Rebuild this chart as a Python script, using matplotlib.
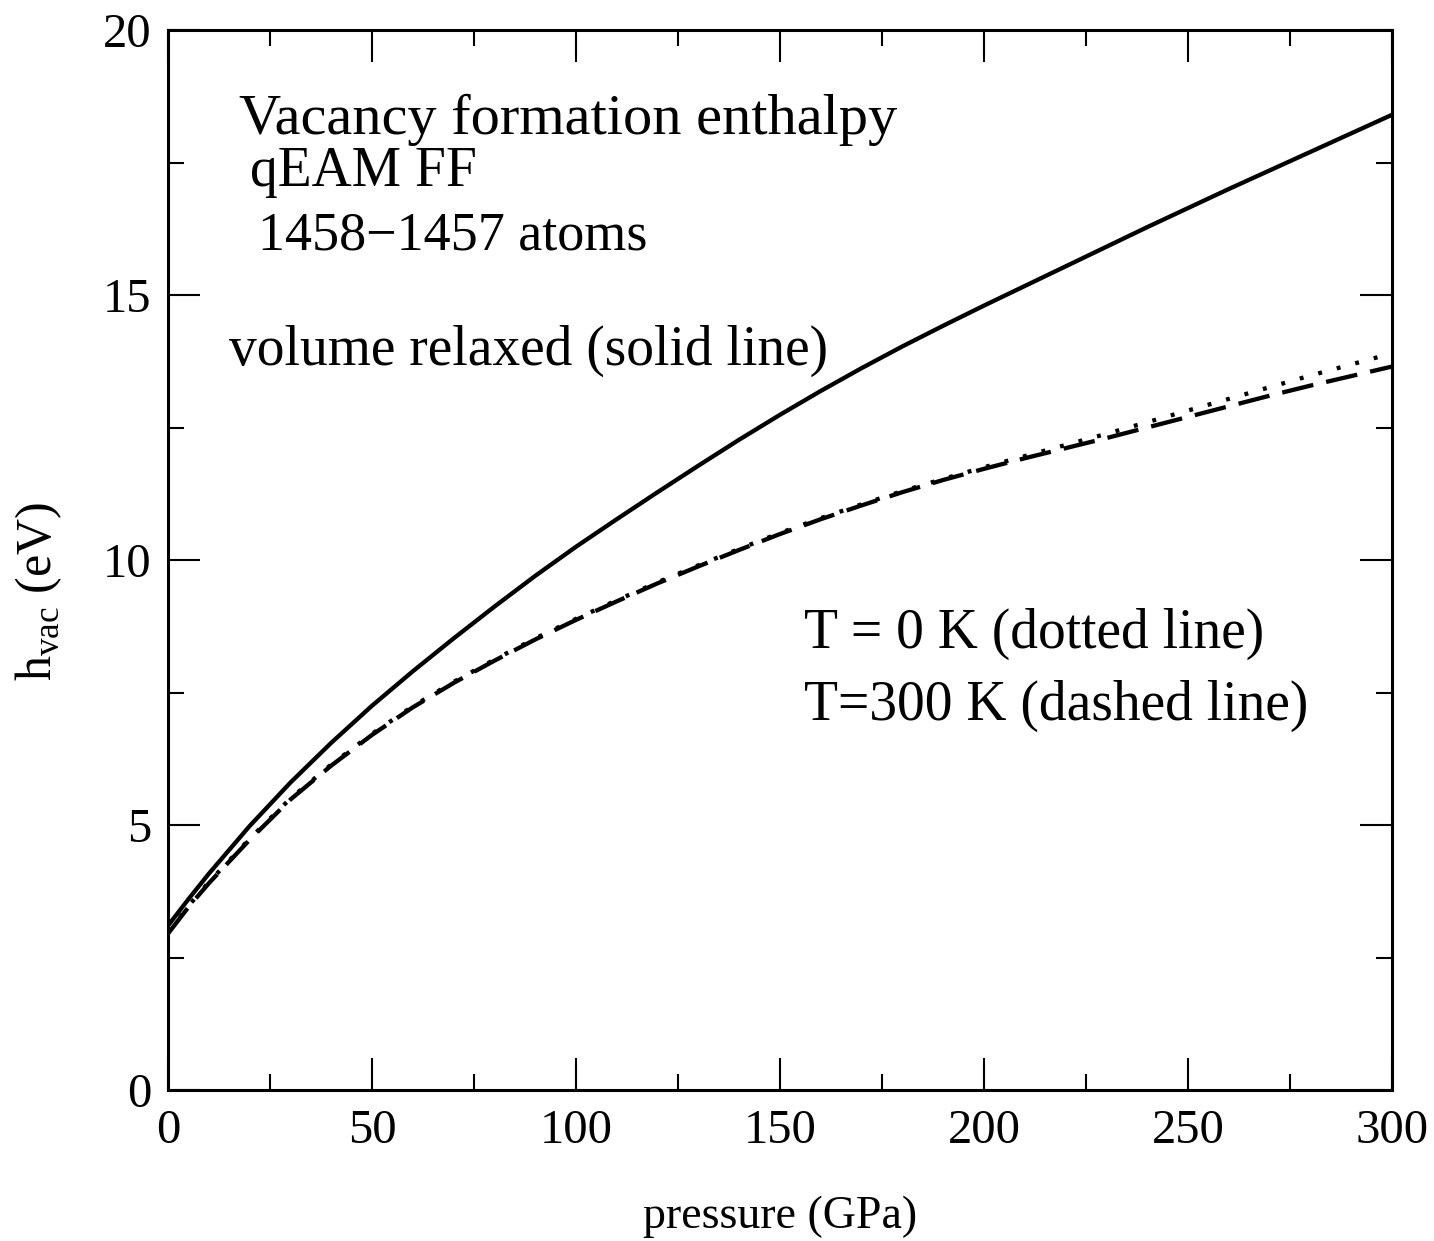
import numpy as np
import matplotlib
matplotlib.use("Agg")
import matplotlib.pyplot as plt
from matplotlib.ticker import MultipleLocator

plt.rcParams['font.family'] = ['Liberation Serif', 'DejaVu Serif']
plt.rcParams['mathtext.fontset'] = 'custom'
plt.rcParams['mathtext.rm'] = 'Liberation Serif'
plt.rcParams['lines.scale_dashes'] = False

# datos (presion en GPa, entalpia en eV)
pressure = [0, 5, 10, 20, 30, 40, 50, 60, 70, 80, 90, 100, 110, 120, 130, 140, 150,
            160, 170, 180, 190, 200, 210, 220, 230, 240, 250, 260, 270, 280, 290, 300]
h_relaxed = [3.1, 3.6, 4.08, 4.98, 5.8, 6.55, 7.25, 7.9, 8.52, 9.12, 9.7, 10.25, 10.77,
             11.28, 11.78, 12.27, 12.74, 13.19, 13.62, 14.03, 14.42, 14.8, 15.17, 15.54,
             15.91, 16.28, 16.64, 17.0, 17.35, 17.7, 18.05, 18.4]
h_t0 = [2.97, 3.47, 3.92, 4.74, 5.5, 6.14, 6.72, 7.24, 7.7, 8.12, 8.52, 8.89, 9.24,
        9.58, 9.9, 10.21, 10.51, 10.79, 11.05, 11.3, 11.53, 11.75, 11.96, 12.17,
        12.38, 12.6, 12.82, 13.04, 13.26, 13.48, 13.69, 13.9]
h_t300 = [2.95, 3.45, 3.9, 4.72, 5.48, 6.12, 6.7, 7.22, 7.68, 8.1, 8.5, 8.87, 9.22,
          9.56, 9.88, 10.19, 10.49, 10.77, 11.03, 11.28, 11.51, 11.72, 11.92, 12.11,
          12.3, 12.5, 12.7, 12.9, 13.1, 13.29, 13.47, 13.65]

fig = plt.figure(figsize=(14.34, 12.41), dpi=100)
ax = fig.add_axes([168/1434, 1 - 1090/1241, 1224/1434, 1060/1241])

ax.plot(pressure, h_relaxed, color="black", lw=3.1)
ax.plot(pressure, h_t0, color="black", lw=3.1, linestyle=(0, (2.8, 11)))
ax.plot(pressure, h_t300, color="black", lw=3.1, linestyle=(0, (23, 9.5)))

ax.set_xlim(0, 300)
ax.set_ylim(0, 20)
ax.xaxis.set_major_locator(MultipleLocator(50))
ax.xaxis.set_minor_locator(MultipleLocator(25))
ax.yaxis.set_major_locator(MultipleLocator(5))
ax.yaxis.set_minor_locator(MultipleLocator(2.5))
ax.tick_params(which="both", direction="in", top=True, right=True, width=1.5, labelsize=35)
ax.tick_params(which="major", length=23)
ax.tick_params(which="minor", length=11.5)
ax.tick_params(axis="x", which="major", pad=14)
ax.tick_params(axis="y", which="major", pad=12)
for s in ax.spines.values():
    s.set_linewidth(2.2)

ax.set_xlabel("pressure (GPa)", fontsize=33, labelpad=30)
ax.set_ylabel(r"h$_{\rm vac}$ (eV)", fontsize=36)
ax.yaxis.set_label_coords(-0.085, 0.47)

ax.text(17.5, 18.3, "Vacancy formation enthalpy", fontsize=42, va="center")
ax.text(20, 17.33, "qEAM FF", fontsize=40, va="center")
ax.text(22, 16.1, "1458\u22121457 atoms", fontsize=39, va="center")
ax.text(15, 13.95, "volume relaxed (solid line)", fontsize=40, va="center")
ax.text(156, 8.6, "T = 0 K (dotted line)", fontsize=40, va="center")
ax.text(156, 7.25, "T=300 K (dashed line)", fontsize=40, va="center")

plt.savefig("out.png", dpi=100)
